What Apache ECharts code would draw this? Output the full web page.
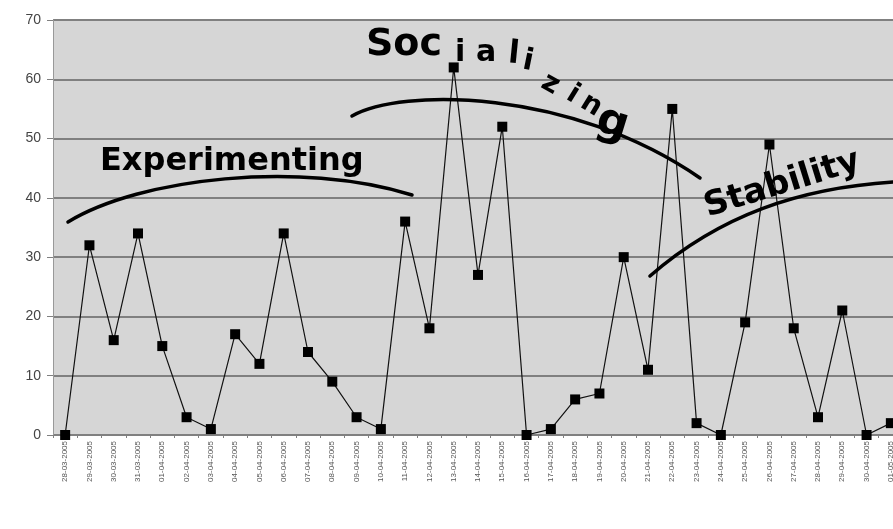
<!DOCTYPE html>
<html>
<head>
<meta charset="utf-8">
<script src="https://cdn.jsdelivr.net/npm/echarts@6/dist/echarts.min.js"></script>
<style>
  html, body { margin: 0; padding: 0; background: #fff; }
  #main { width: 893px; height: 529px; }
</style>
</head>
<body>
<div id="main"></div>
<script>
// daily counts, 28-03-2005 .. 01-05-2005
var dates = ['28-03-2005', '29-03-2005', '30-03-2005', '31-03-2005', '01-04-2005', '02-04-2005',
    '03-04-2005', '04-04-2005', '05-04-2005', '06-04-2005', '07-04-2005', '08-04-2005',
    '09-04-2005', '10-04-2005', '11-04-2005', '12-04-2005', '13-04-2005', '14-04-2005',
    '15-04-2005', '16-04-2005', '17-04-2005', '18-04-2005', '19-04-2005', '20-04-2005',
    '21-04-2005', '22-04-2005', '23-04-2005', '24-04-2005', '25-04-2005', '26-04-2005',
    '27-04-2005', '28-04-2005', '29-04-2005', '30-04-2005', '01-05-2005'];
var counts = [0, 32, 16, 34, 15, 3, 1, 17, 12, 34, 14, 9, 3, 1, 36, 18, 62, 27, 52, 0,
    1, 6, 7, 30, 11, 55, 2, 0, 19, 49, 18, 3, 21, 0, 2];
var yTicks = [0, 10, 20, 30, 40, 50, 60, 70];

var myChart = echarts.init(document.getElementById('main'));

var pen = { stroke: '#000', lineWidth: 3.5, fill: null, lineCap: 'round' };

// one hand written letter (or group) of the notes
function scrawl(txt, x, y, size, rot) {
    return {
        type: 'text', z: 10, x: x, y: y, rotation: rot || 0,
        style: { text: txt, font: 'bold ' + size + 'px "DejaVu Sans"', fill: '#000' }
    };
}

var option = {
    animation: false,
    grid: {
        left: 53,
        top: 20,
        width: 850,
        height: 415,
        show: true,
        backgroundColor: '#d6d6d6',
        borderWidth: 0,
        outerBoundsMode: 'none',
        containLabel: false
    },
    xAxis: {
        type: 'category',
        data: dates,
        boundaryGap: true,
        axisLine: { show: true, lineStyle: { color: '#808080', width: 1 } },
        axisTick: { show: true, length: 3, interval: 0, lineStyle: { color: '#808080' } },
        axisLabel: {
            interval: 0,
            rotate: 90,
            fontSize: 8,
            color: '#555',
            fontFamily: 'Liberation Sans',
            margin: 6
        },
        splitLine: { show: false }
    },
    yAxis: {
        type: 'value',
        min: yTicks[0],
        max: yTicks[yTicks.length - 1],
        interval: 10,
        axisLine: { show: true, lineStyle: { color: '#999', width: 1 } },
        axisTick: { show: true, length: 6, lineStyle: { color: '#808080' } },
        axisLabel: {
            fontSize: 14,
            color: '#444',
            fontFamily: 'Liberation Sans',
            margin: 12
        },
        splitLine: { show: true, lineStyle: { color: '#808080', width: 2 } }
    },
    series: [
        {
            name: 'Count',
            type: 'line',
            data: counts,
            symbol: 'rect',
            symbolSize: 10,
            itemStyle: { color: '#000' },
            lineStyle: { color: '#111', width: 1.2 },
            z: 5
        }
    ],
    graphic: [
        // hand drawn notes
        { type: 'bezierCurve', z: 10, shape: { x1: 68, y1: 222, cpx1: 140, cpy1: 178, cpx2: 300, cpy2: 160, x2: 412, y2: 195 }, style: pen },
        { type: 'bezierCurve', z: 10, shape: { x1: 352, y1: 116, cpx1: 400, cpy1: 88, cpx2: 570, cpy2: 88, x2: 700, y2: 178 }, style: pen },
        { type: 'bezierCurve', z: 10, shape: { x1: 650, y1: 276, cpx1: 720, cpy1: 215, cpx2: 800, cpy2: 188, x2: 893, y2: 182 }, style: pen },
        scrawl('Experimenting', 100, 146, 32),
        scrawl('Soc', 366, 26, 38),
        scrawl('i', 455, 38, 30),
        scrawl('a', 476, 38, 30),
        scrawl('l', 510, 38, 32, -0.1),
        scrawl('i', 526, 46, 30, -0.2),
        scrawl('z', 550, 68, 28, -0.5),
        scrawl('i', 576, 80, 28, -0.55),
        scrawl('n', 590, 88, 28, -0.55),
        scrawl('g', 604, 98, 44, -0.3),
        scrawl('Stability', 700, 192, 34, 0.3)
    ]
};

myChart.setOption(option);
</script>
</body>
</html>
